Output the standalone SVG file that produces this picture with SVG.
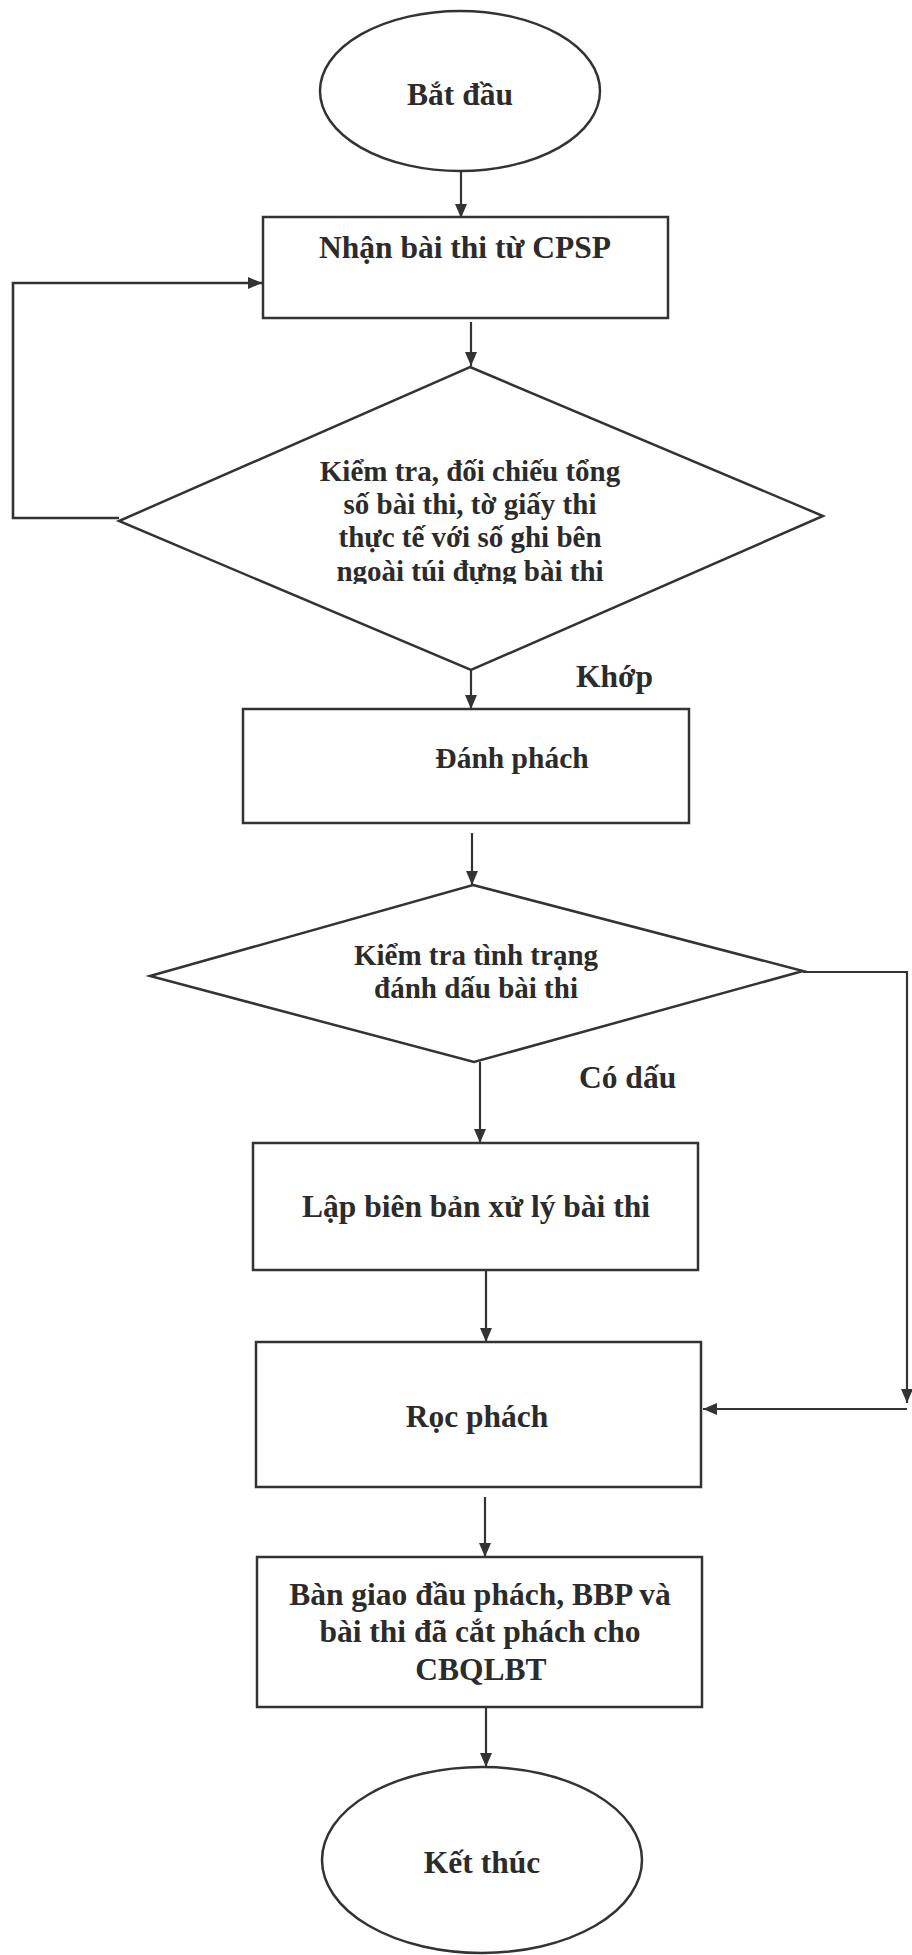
<svg xmlns="http://www.w3.org/2000/svg" width="912" height="1955" viewBox="0 0 912 1955">
  <style>
    .shape { fill: #ffffff; stroke: #333333; stroke-width: 2.5; }
    .edge { fill: none; stroke: #333333; stroke-width: 2.2; }
    .lbl { font-family: "Liberation Serif", "Times New Roman", serif; font-weight: bold; font-size: 29px; fill: #2b2b2b; text-anchor: middle; }
    .big { font-size: 31.5px; }
    .tag { font-family: "Liberation Serif", "Times New Roman", serif; font-weight: bold; font-size: 31.5px; fill: #2b2b2b; }
  </style>
  <defs>
    <marker id="arrow" markerUnits="userSpaceOnUse" markerWidth="14" markerHeight="14" viewBox="0 0 14 14" refX="14" refY="7" orient="auto">
      <path d="M0,1 L14,7 L0,13 Z" fill="#333333"/>
    </marker>
    <clipPath id="clipLastLine">
      <rect x="0" y="0" width="912" height="584"/>
    </clipPath>
  </defs>
  <rect width="912" height="1955" fill="#ffffff"/>

  <g id="connectors">
    <path class="edge" d="M461,172 V218" marker-end="url(#arrow)"/>
    <path class="edge" d="M471,322 V366" marker-end="url(#arrow)"/>
    <path class="edge" d="M119,518 H13 V283 H262" marker-end="url(#arrow)" style="stroke-width:2.6"/>
    <path class="edge" d="M471,670 V709" marker-end="url(#arrow)"/>
    <path class="edge" d="M472,833 V885" marker-end="url(#arrow)"/>
    <path class="edge" d="M480,1062 V1143" marker-end="url(#arrow)"/>
    <path class="edge" d="M803,972 H907 V1403" marker-end="url(#arrow)"/>
    <path class="edge" d="M907,1409 H703" marker-end="url(#arrow)"/>
    <path class="edge" d="M486,1270 V1342" marker-end="url(#arrow)"/>
    <path class="edge" d="M485,1497 V1557" marker-end="url(#arrow)"/>
    <path class="edge" d="M486,1707 V1767" marker-end="url(#arrow)"/>
  </g>

  <g id="start">
    <ellipse class="shape" cx="460" cy="91" rx="140" ry="80"/>
    <text class="lbl big" x="460" y="105">Bắt đầu</text>
  </g>

  <g id="receive">
    <rect class="shape" x="263" y="217" width="405" height="101"/>
    <text class="lbl big" x="465" y="258">Nhận bài thi từ CPSP</text>
  </g>

  <g id="check-count">
    <polygon class="shape" points="470,367 823,516 471,670 119,521"/>
    <text class="lbl" x="470" y="481">Kiểm tra, đối chiếu tổng</text>
    <text class="lbl" x="470" y="514">số bài thi, tờ giấy thi</text>
    <text class="lbl" x="470" y="547">thực tế với số ghi bên</text>
    <text class="lbl" x="470" y="581" clip-path="url(#clipLastLine)">ngoài túi đựng bài thi</text>
  </g>
  <text class="tag" x="576" y="687">Khớp</text>

  <g id="number">
    <rect class="shape" x="243" y="709" width="446" height="114"/>
    <text class="lbl" x="512" y="768" style="font-size:29.5px">Đánh phách</text>
  </g>

  <g id="check-marks">
    <polygon class="shape" points="473,885 803,971 474,1062 150,976"/>
    <text class="lbl" x="476" y="965">Kiểm tra tình trạng</text>
    <text class="lbl" x="476" y="998">đánh dấu bài thi</text>
  </g>
  <text class="tag" x="579" y="1088">Có dấu</text>

  <g id="report">
    <rect class="shape" x="253" y="1143" width="445" height="127"/>
    <text class="lbl big" x="476" y="1217">Lập biên bản xử lý bài thi</text>
  </g>

  <g id="cut">
    <rect class="shape" x="256" y="1342" width="445" height="145"/>
    <text class="lbl big" x="477" y="1427">Rọc phách</text>
  </g>

  <g id="handover">
    <rect class="shape" x="257" y="1557" width="445" height="150"/>
    <text class="lbl big" x="480" y="1605">Bàn giao đầu phách, BBP và</text>
    <text class="lbl big" x="480" y="1642">bài thi đã cắt phách cho</text>
    <text class="lbl big" x="481" y="1680">CBQLBT</text>
  </g>

  <g id="end">
    <ellipse class="shape" cx="482" cy="1860" rx="160" ry="93"/>
    <text class="lbl big" x="482" y="1873">Kết thúc</text>
  </g>
</svg>
